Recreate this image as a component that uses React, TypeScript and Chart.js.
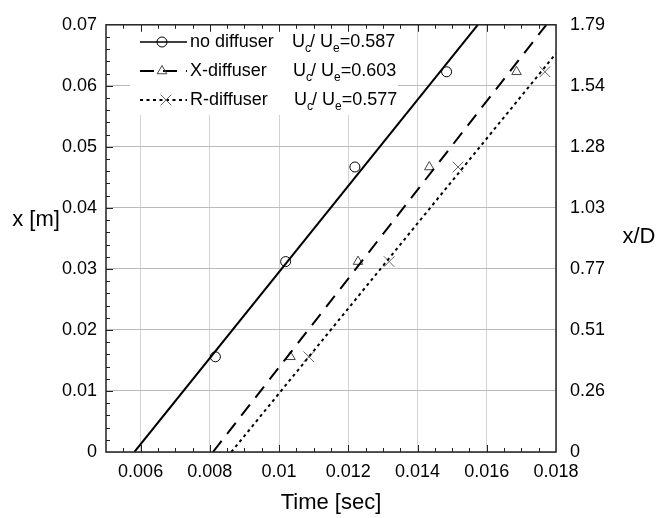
import React, { useEffect, useRef } from 'react';
import { Chart, registerables } from 'chart.js';

Chart.register(...registerables);

const FONT = '"Liberation Sans", Arial, Helvetica, sans-serif';

// measured positions (x [m]) of the four stations
const stationX = [0.0156, 0.0312, 0.0467, 0.0623];
// arrival times [sec] for each configuration
const noDiffuserTime = [0.00816, 0.01019, 0.01219, 0.01484];
const xDiffuserTime = [0.01033, 0.01228, 0.01434, 0.01686];
const rDiffuserTime = [0.01086, 0.01318, 0.01517, 0.01768];

// linear fit end points
const noDiffuserFitTime = [0.00582, 0.01574];
const noDiffuserFitX = [0, 0.07];
const xDiffuserFitTime = [0.00809, 0.01772];
const xDiffuserFitX = [0, 0.07];
const rDiffuserFitTime = [0.00862, 0.018];
const rDiffuserFitX = [0, 0.0653];

const seriesNames = ['no diffuser', 'X-diffuser', 'R-diffuser'];
const velocityRatios = ['0.587', '0.603', '0.577'];

const xTickValues = [0.006, 0.008, 0.01, 0.012, 0.014, 0.016, 0.018];
const xTickLabels = ['0.006', '0.008', '0.01', '0.012', '0.014', '0.016', '0.018'];
const yTickValues = [0, 0.01, 0.02, 0.03, 0.04, 0.05, 0.06, 0.07];
const yTickLabels = ['0', '0.01', '0.02', '0.03', '0.04', '0.05', '0.06', '0.07'];
const xdTickLabels = ['0', '0.26', '0.51', '0.77', '1.03', '1.28', '1.54', '1.79'];

const SOLID: number[] = [];
const DASH = [14, 9];
const DOT = [3, 3.5];

const pts = (xs: number[], ys: number[]) => xs.map((x, i) => ({ x, y: ys[i] }));

function drawMarker(ctx: CanvasRenderingContext2D, style: string, x: number, y: number, color: string) {
  ctx.save();
  ctx.setLineDash([]);
  ctx.strokeStyle = color;
  ctx.lineWidth = 1;
  ctx.beginPath();
  if (style === 'circle') {
    ctx.arc(x, y, 5, 0, Math.PI * 2);
  } else if (style === 'triangle') {
    const r = 5.5;
    for (let k = 0; k < 3; k++) {
      const a = (k * 2 * Math.PI) / 3;
      const px = x + Math.sin(a) * r;
      const py = y - Math.cos(a) * r;
      if (k === 0) ctx.moveTo(px, py);
      else ctx.lineTo(px, py);
    }
    ctx.closePath();
  } else {
    const d = 5.3;
    ctx.moveTo(x - d, y - d);
    ctx.lineTo(x + d, y + d);
    ctx.moveTo(x + d, y - d);
    ctx.lineTo(x - d, y + d);
  }
  ctx.stroke();
  ctx.restore();
}

const legendPlugin = {
  id: 'customLegend',
  beforeDatasetsDraw(chart: any) {
    const ctx: CanvasRenderingContext2D = chart.ctx;
    ctx.save();
    ctx.fillStyle = '#ffffff';
    ctx.fillRect(130, 21, 268, 94);
    const rows = [42, 71, 100];
    const dashes = [SOLID, DASH, DOT];
    const markers = ['circle', 'triangle', 'cross'];
    const colors = ['#000000', '#444444', '#666666'];
    const markerX = [162, 162, 166];
    const ratioX = [292, 293, 294];
    rows.forEach((y, i) => {
      ctx.save();
      ctx.strokeStyle = '#000';
      ctx.lineWidth = i === 0 ? 1.5 : 2;
      ctx.setLineDash(dashes[i]);
      ctx.beginPath();
      ctx.moveTo(140, y);
      ctx.lineTo(187, y);
      ctx.stroke();
      ctx.restore();
      drawMarker(ctx, markers[i], markerX[i], y, colors[i]);

      ctx.fillStyle = '#000';
      ctx.textBaseline = 'middle';
      ctx.textAlign = 'left';
      ctx.font = `18px ${FONT}`;
      ctx.fillText(seriesNames[i], 190, y);

      let x = ratioX[i];
      const main = `18px ${FONT}`;
      const sub = `12px ${FONT}`;
      ctx.font = main;
      ctx.fillText('U', x, y);
      x += ctx.measureText('U').width;
      ctx.font = sub;
      ctx.fillText('c', x, y + 7);
      x += ctx.measureText('c').width - 1;
      ctx.font = main;
      ctx.fillText('/', x, y);
      x += ctx.measureText('/ ').width;
      ctx.fillText('U', x, y);
      x += ctx.measureText('U').width;
      ctx.font = sub;
      ctx.fillText('e', x, y + 7);
      x += ctx.measureText('e').width;
      ctx.font = main;
      ctx.fillText('=' + velocityRatios[i], x, y);
    });
    ctx.restore();
  },
};

const framePlugin = {
  id: 'frameTicks',
  afterDraw(chart: any) {
    const ctx: CanvasRenderingContext2D = chart.ctx;
    const { left, right, top, bottom } = chart.chartArea;
    const xs = chart.scales.x;
    const ys = chart.scales.y;
    ctx.save();
    ctx.strokeStyle = '#222';
    ctx.lineWidth = 1.5;
    ctx.setLineDash([]);
    ctx.strokeRect(left, top, right - left, bottom - top);
    ctx.lineWidth = 1;
    ctx.beginPath();
    for (let i = 11; i < 36; i++) {
      const v = i * 0.0005;
      const px = Math.round(xs.getPixelForValue(v)) + 0.5;
      const len = i % 4 === 0 ? 7 : 4;
      ctx.moveTo(px, bottom);
      ctx.lineTo(px, bottom - len);
      ctx.moveTo(px, top);
      ctx.lineTo(px, top + len);
    }
    for (let i = 1; i < 35; i++) {
      const v = i * 0.002;
      const py = Math.round(ys.getPixelForValue(v)) + 0.5;
      const len = i % 5 === 0 ? 7 : 4;
      ctx.moveTo(left, py);
      ctx.lineTo(left + len, py);
    }
    ctx.stroke();

    ctx.fillStyle = '#000';
    ctx.font = `22px ${FONT}`;
    ctx.textAlign = 'center';
    ctx.textBaseline = 'middle';
    ctx.fillText('x [m]', 36, 220);
    ctx.fillText('x/D', 639, 237);
    ctx.fillText('Time [sec]', (left + right) / 2, 503);
    ctx.restore();
  },
};

export default function App() {
  const ref = useRef<HTMLCanvasElement>(null);
  useEffect(() => {
    if (!ref.current) return;
    const tickFont = { family: FONT, size: 18 };
    const chart = new Chart(ref.current, {
      type: 'scatter',
      data: {
        datasets: [
          {
            label: 'no diffuser fit',
            data: pts(noDiffuserFitTime, noDiffuserFitX),
            showLine: true,
            borderColor: '#000',
            borderWidth: 2,
            pointRadius: 0,
          },
          {
            label: 'X-diffuser fit',
            data: pts(xDiffuserFitTime, xDiffuserFitX),
            showLine: true,
            borderColor: '#000',
            borderWidth: 2,
            borderDash: DASH,
            pointRadius: 0,
          },
          {
            label: 'R-diffuser fit',
            data: pts(rDiffuserFitTime, rDiffuserFitX),
            showLine: true,
            borderColor: '#000',
            borderWidth: 2,
            borderDash: DOT,
            pointRadius: 0,
          },
          {
            label: 'no diffuser',
            data: pts(noDiffuserTime, stationX),
            pointStyle: 'circle',
            pointRadius: 5,
            borderWidth: 1,
            borderColor: '#000',
            backgroundColor: 'rgba(0,0,0,0)',
          },
          {
            label: 'X-diffuser',
            data: pts(xDiffuserTime, stationX),
            pointStyle: 'triangle',
            pointRadius: 5.5,
            borderWidth: 1,
            borderColor: '#444',
            backgroundColor: 'rgba(0,0,0,0)',
          },
          {
            label: 'R-diffuser',
            data: pts(rDiffuserTime, stationX),
            pointStyle: 'crossRot',
            pointRadius: 7.5,
            borderWidth: 1,
            borderColor: '#666',
            backgroundColor: 'rgba(0,0,0,0)',
          },
        ],
      },
      options: {
        animation: false,
        responsive: true,
        maintainAspectRatio: false,
        layout: { padding: { top: 19, left: 0, right: 0, bottom: 0 } },
        plugins: { legend: { display: false }, tooltip: { enabled: false } },
        scales: {
          x: {
            type: 'linear',
            position: 'bottom',
            min: 0.005,
            max: 0.018,
            afterBuildTicks: (s: any) => {
              s.ticks = xTickValues.map((v) => ({ value: v }));
            },
            afterFit: (s: any) => {
              s.height = 66;
            },
            grid: { color: '#d2d2d2', lineWidth: 1, drawTicks: false },
            border: { display: false },
            ticks: {
              autoSkip: false,
              maxRotation: 0,
              padding: 9,
              color: '#000',
              font: tickFont,
              callback: (_v: any, i: number) => xTickLabels[i],
            },
          },
          y: {
            type: 'linear',
            position: 'left',
            min: 0,
            max: 0.07,
            afterBuildTicks: (s: any) => {
              s.ticks = yTickValues.map((v) => ({ value: v }));
            },
            afterFit: (s: any) => {
              s.width = 106;
            },
            grid: { color: '#bbbbbb', lineWidth: 1, drawTicks: false },
            border: { display: false },
            ticks: {
              autoSkip: false,
              padding: 9,
              color: '#000',
              font: tickFont,
              callback: (_v: any, i: number) => yTickLabels[i],
            },
          },
          y2: {
            type: 'linear',
            position: 'right',
            min: 0,
            max: 0.07,
            afterBuildTicks: (s: any) => {
              s.ticks = yTickValues.map((v) => ({ value: v }));
            },
            afterFit: (s: any) => {
              s.width = 106;
            },
            grid: { display: false, drawTicks: false },
            border: { display: false },
            ticks: {
              autoSkip: false,
              padding: 14,
              color: '#000',
              font: tickFont,
              callback: (_v: any, i: number) => xdTickLabels[i],
            },
          },
        },
      } as any,
      plugins: [legendPlugin, framePlugin],
    });
    return () => chart.destroy();
  }, []);
  return (
    <div style={{ position: 'absolute', left: 0, top: 0, width: 662, height: 518 }}>
      <canvas ref={ref} />
    </div>
  );
}
